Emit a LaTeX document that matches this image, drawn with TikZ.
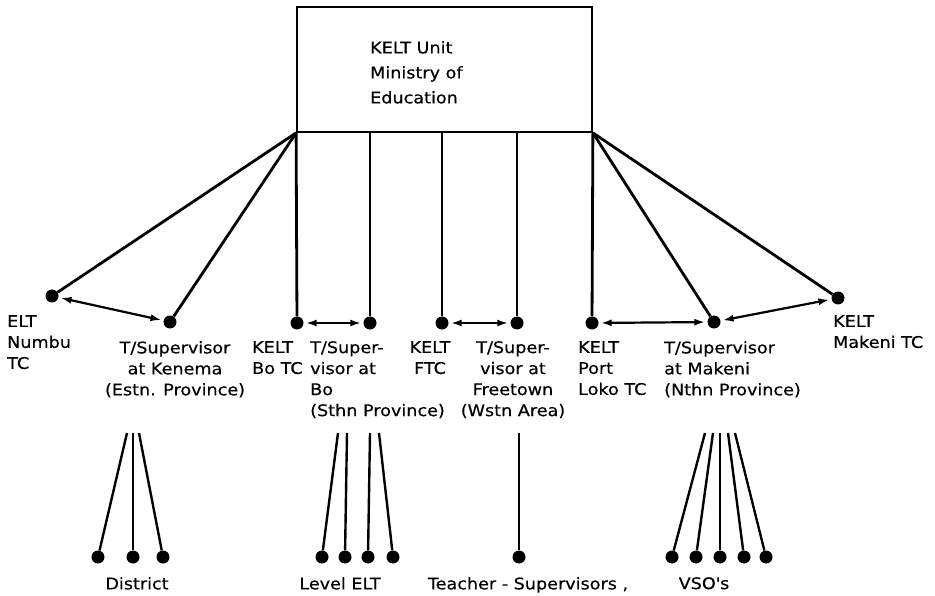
\documentclass[tikz,border=0pt]{standalone}
\usepackage{fontspec}
\setmainfont{DejaVu Sans}[FakeStretch=1.1, FakeBold=0.4]
\usetikzlibrary{arrows.meta}

\tikzset{
  dot/.style={circle, fill=black, inner sep=0pt, minimum size=13pt},
  lab/.style={inner sep=0pt, font=\fontsize{16}{21}\selectfont},
  link/.style={line width=2.8pt},
  fan/.style={line width=2.4pt},
  arr/.style={line width=2.2pt, {Latex[length=11pt,width=7pt]}-{Latex[length=11pt,width=7pt]}, shorten <=2pt, shorten >=2pt},
}

\begin{document}
\begin{tikzpicture}[x=1pt, y=-1pt]
    \useasboundingbox (0,0) rectangle (935,596);
%% the unit at the top
    \node[draw, line width=1.8pt, minimum width=295pt, minimum height=125pt, inner sep=0pt] (kelt) at (444.5,69.5) {};
    \node[lab, font=\fontsize{16}{25}\selectfont, align=left, anchor=north west] (keltlab) at (370,41) {KELT Unit\\Ministry of\\Education};
%% the row of centres
    \node[dot] (numbu) at (52,296) {};
    \node[dot] (kenema) at (170,322) {};
    \node[dot] (botc) at (297,323) {};
    \node[dot] (supbo) at (370,323) {};
    \node[dot] (ftc) at (442,323) {};
    \node[dot] (supft) at (517,323) {};
    \node[dot] (loko) at (592,323) {};
    \node[dot] (makeni) at (714,322) {};
    \node[dot] (mktc) at (838,298) {};
    \node[lab, align=left, anchor=north west] (numbulab) at (7,315) {ELT\\Numbu\\TC};
    \node[lab, align=center, anchor=north] (kenemalab) at (175,341) {T/Supervisor\\at Kenema\\(Estn. Province)};
    \node[lab, align=left, anchor=north west] (botclab) at (252,341) {KELT\\Bo TC};
    \node[lab, align=left, anchor=north west] (supbolab) at (310,341) {T/Super-\\visor at\\Bo\\(Sthn Province)};
    \node[lab, align=center, anchor=north] (ftclab) at (430,341) {KELT\\FTC};
    \node[lab, align=center, anchor=north] (supftlab) at (513,341) {T/Super-\\visor at\\Freetown\\(Wstn Area)};
    \node[lab, align=left, anchor=north west] (lokolab) at (578,341) {KELT\\Port\\Loko TC};
    \node[lab, align=left, anchor=north west] (makenilab) at (664,341) {T/Supervisor\\at Makeni\\(Nthn Province)};
    \node[lab, align=left, anchor=north west] (mktclab) at (833,315) {KELT\\Makeni TC};
%% lines from the unit
    \draw[link] (kelt.south west) -- (numbu);
    \draw[link] (kelt.south west) -- (kenema);
    \draw[link] (kelt.south west) -- (botc);
    \draw[link] (supbo |- kelt.south) -- (supbo);
    \draw[link] (ftc |- kelt.south) -- (ftc);
    \draw[link] (supft |- kelt.south) -- (supft);
    \draw[link] (kelt.south east) -- (loko);
    \draw[link] (kelt.south east) -- (makeni);
    \draw[link] (kelt.south east) -- (mktc);
%% two way links
    \draw[arr] (numbu) -- (kenema);
    \draw[arr] (botc) -- (supbo);
    \draw[arr] (ftc) -- (supft);
    \draw[arr] (loko) -- (makeni);
    \draw[arr] (makeni) -- (mktc);
%% district level teacher-supervisors
    \coordinate (dist1) at (127,433);
    \coordinate (dist2) at (133,433);
    \coordinate (dist3) at (139,433);
    \node[dot] (distdot1) at (98,557) {};
    \node[dot] (distdot2) at (133,557) {};
    \node[dot] (distdot3) at (163,557) {};
    \draw[fan] (dist1) -- (distdot1);
    \draw[fan] (dist2) -- (distdot2);
    \draw[fan] (dist3) -- (distdot3);
    \coordinate (lev1) at (338,433);
    \coordinate (lev2) at (347,433);
    \coordinate (lev3) at (370,433);
    \coordinate (lev4) at (379,433);
    \node[dot] (levdot1) at (322,557) {};
    \node[dot] (levdot2) at (345,557) {};
    \node[dot] (levdot3) at (368,557) {};
    \node[dot] (levdot4) at (393,557) {};
    \draw[fan] (lev1) -- (levdot1);
    \draw[fan] (lev2) -- (levdot2);
    \draw[fan] (lev3) -- (levdot3);
    \draw[fan] (lev4) -- (levdot4);
    \coordinate (teach1) at (519,433);
    \node[dot] (teachdot1) at (519,557) {};
    \draw[fan] (teach1) -- (teachdot1);
    \coordinate (vso1) at (705,433);
    \coordinate (vso2) at (713,433);
    \coordinate (vso3) at (720,433);
    \coordinate (vso4) at (728,433);
    \coordinate (vso5) at (735,433);
    \node[dot] (vsodot1) at (672,557) {};
    \node[dot] (vsodot2) at (696,557) {};
    \node[dot] (vsodot3) at (720,557) {};
    \node[dot] (vsodot4) at (744,557) {};
    \node[dot] (vsodot5) at (766,557) {};
    \draw[fan] (vso1) -- (vsodot1);
    \draw[fan] (vso2) -- (vsodot2);
    \draw[fan] (vso3) -- (vsodot3);
    \draw[fan] (vso4) -- (vsodot4);
    \draw[fan] (vso5) -- (vsodot5);
    \node[lab, anchor=north] (distlab) at (137,577) {District};
    \node[lab, anchor=north] (levlab) at (340,577) {Level ELT};
    \node[lab, anchor=north] (teachlab) at (528,577) {Teacher - Supervisors ,};
    \node[lab, anchor=north] (vsolab) at (704,577) {VSO\textquotesingle s};
\end{tikzpicture}
\end{document}
